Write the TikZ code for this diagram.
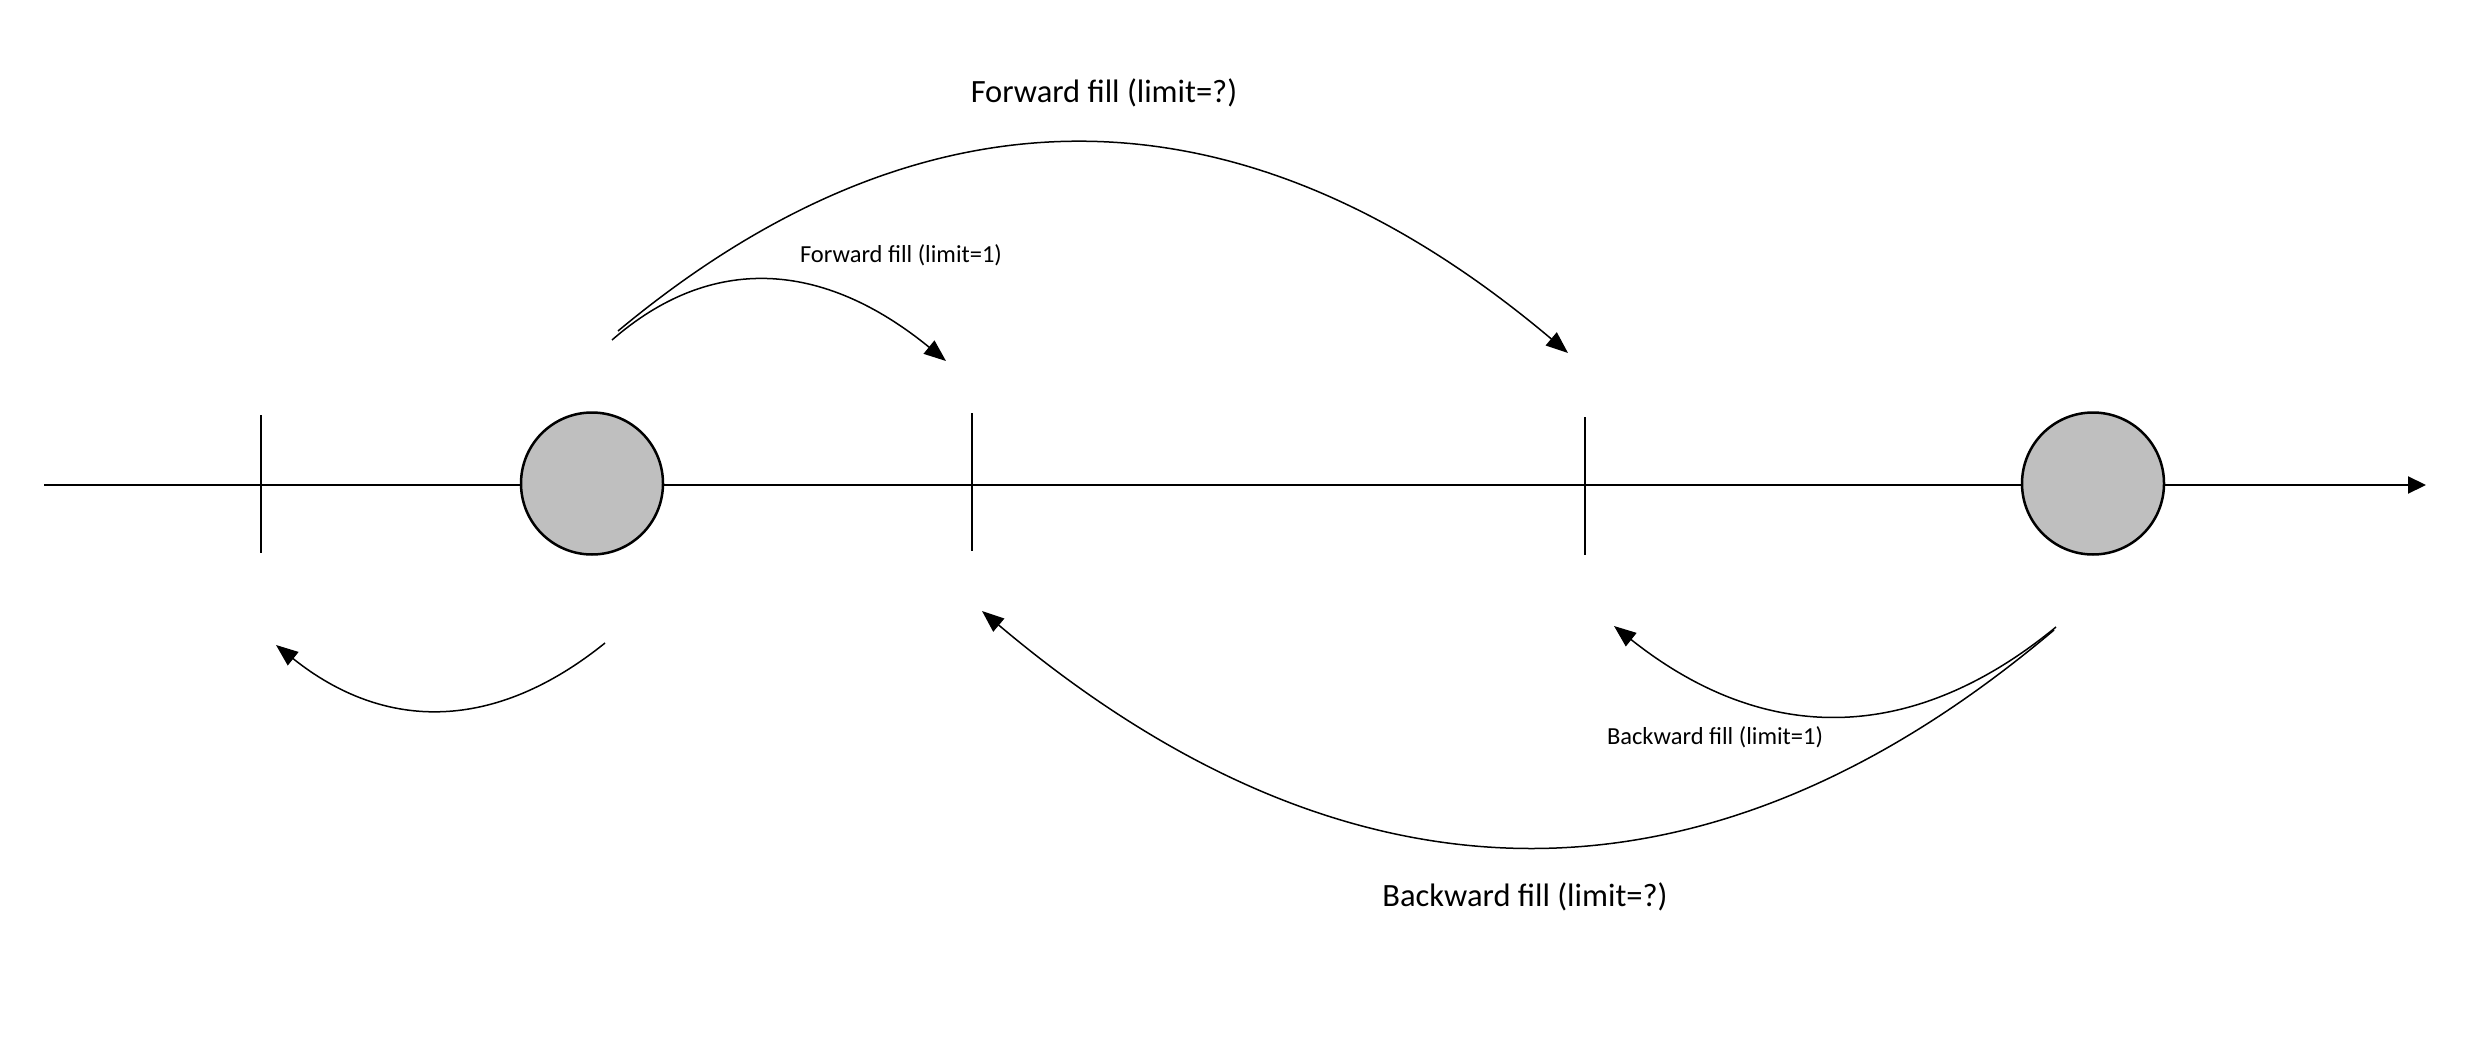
\documentclass[tikz,border=0pt]{standalone}
\usepackage{fontspec}
\setmainfont{Carlito}
\usetikzlibrary{arrows.meta}
\begin{document}
\begin{tikzpicture}[x=1pt,y=-1pt,
  axisline/.style={line width=2pt},
  arcline/.style={line width=1.5pt,-{Triangle[length=22pt,width=17pt]}},
  dot/.style={circle,draw,fill=black!25,line width=2.5pt,minimum size=142pt,inner sep=0pt},
  smalllbl/.style={font=\fontsize{24.5}{28}\selectfont},
  biglbl/.style={font=\fontsize{32.5}{37}\selectfont}]
\useasboundingbox (0,0) rectangle (2484,1062);
% axis
\coordinate (axs) at (44,485);
\coordinate (axe) at (2426,485);
\draw[axisline,-{Triangle[length=18pt,width=17pt]}] (axs) -- (axe);
% ticks
\coordinate (t1a) at (261,415); \coordinate (t1b) at (261,553);
\coordinate (t2a) at (972,413); \coordinate (t2b) at (972,551);
\coordinate (t3a) at (1585,417); \coordinate (t3b) at (1585,555);
\draw[axisline] (t1a) -- (t1b);
\draw[axisline] (t2a) -- (t2b);
\draw[axisline] (t3a) -- (t3b);
% circles
\node[dot] (c1) at (592,483.5) {};
\node[dot] (c2) at (2093,483.5) {};
% forward fill arcs
\coordinate (f2s) at (618,331); \coordinate (f2e) at (1568,353);
\draw[arcline] (f2s) .. controls (928,73) and (1244.7,80.3) .. (f2e);
\coordinate (f1s) at (612,340); \coordinate (f1e) at (946,361);
\draw[arcline] (f1s) .. controls (711.3,253.3) and (822.7,260.3) .. (f1e);
% backward arcs
\coordinate (b0s) at (605,643); \coordinate (b0e) at (276,645);
\draw[arcline] (b0s) .. controls (495,731.7) and (385.3,732.3) .. (b0e);
\coordinate (b1s) at (2056,627); \coordinate (b1e) at (1614,626);
\draw[arcline] (b1s) .. controls (1911.3,745.7) and (1764,745.3) .. (b1e);
\coordinate (b2s) at (2054,630); \coordinate (b2e) at (982,611);
\draw[arcline] (b2s) .. controls (1704.7,925.3) and (1347.3,919) .. (b2e);
% labels
\node[biglbl] (lf2) at (1104,93) {Forward fill (limit=?)};
\node[smalllbl] (lf1) at (901,255) {Forward fill (limit=1)};
\node[smalllbl] (lb1) at (1715,737) {Backward fill (limit=1)};
\node[biglbl] (lb2) at (1525,897) {Backward fill (limit=?)};
\end{tikzpicture}
\end{document}
